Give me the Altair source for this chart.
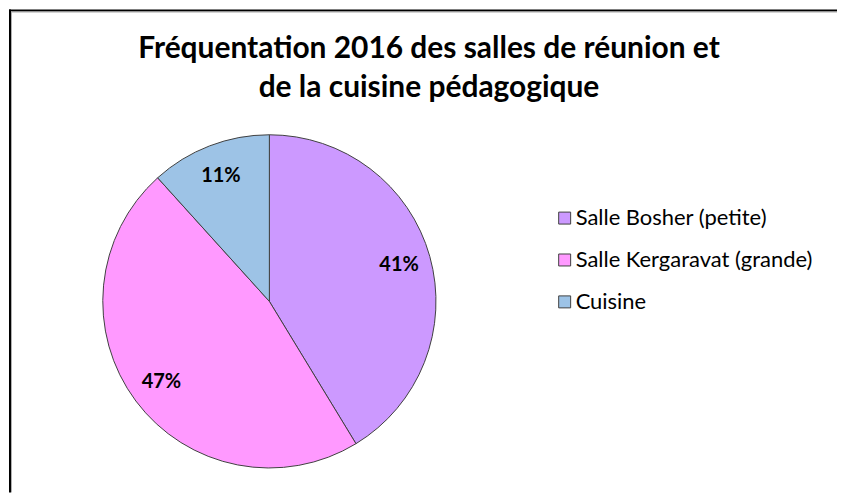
import altair as alt
import pandas as pd

categories = ["Salle Bosher (petite)", "Salle Kergaravat (grande)", "Cuisine"]
values = [41.3, 47.0, 11.7]
labels = ["41%", "47%", "11%"]
colors = ["#CC99FF", "#FF99FF", "#9DC3E6"]
title_lines = ["Fréquentation 2016 des salles de réunion et", "de la cuisine pédagogique"]

df = pd.DataFrame({"cat": categories, "val": values, "lab": labels, "idx": list(range(len(categories)))})

W, H = 830, 484
CX, CY, R = 261, 292.5, 167

color = alt.Color("cat:N", scale=alt.Scale(domain=categories, range=colors),
                  legend=alt.Legend(title=None, orient="none", legendX=546, legendY=198,
                                    symbolType="square", symbolSize=144,
                                    symbolStrokeColor="#404040", symbolStrokeWidth=1,
                                    labelFont="Lato", labelFontSize=22, labelColor="#000000",
                                    labelOffset=0, rowPadding=20, padding=0,
                                    labelLimit=400))

base = alt.Chart(df).encode(
    theta=alt.Theta("val:Q", stack=True),
    order=alt.Order("idx:Q"),
)

arcs = base.mark_arc(stroke="#404040", strokeWidth=1).encode(
    color=color,
    x=alt.value(CX), y=alt.value(CY), radius=alt.value(R),
)

texts = base.mark_text(font="Lato", fontSize=20, fontWeight="bold", color="#000000").encode(
    text="lab:N",
    x=alt.value(CX), y=alt.value(CY), radius=alt.value(135),
)

tdf = pd.DataFrame({"t": title_lines, "i": [0, 1]})
title1 = alt.Chart(tdf.iloc[[0]]).mark_text(font="Lato", fontSize=30, fontWeight="bold",
                                             baseline="alphabetic", align="center", color="#000000").encode(
    text="t:N", x=alt.value(421), y=alt.value(49))
title2 = alt.Chart(tdf.iloc[[1]]).mark_text(font="Lato", fontSize=30, fontWeight="bold",
                                             baseline="alphabetic", align="center", color="#000000").encode(
    text="t:N", x=alt.value(421), y=alt.value(88))

left = alt.Chart(tdf.iloc[[0]]).mark_rule(color="#000000", strokeWidth=2).encode(
    x=alt.value(1), y=alt.value(0), y2=alt.value(H))
top = alt.Chart(tdf.iloc[[0]]).mark_rule(color="#000000", strokeWidth=2).encode(
    y=alt.value(1), x=alt.value(0), x2=alt.value(W))
left2 = alt.Chart(tdf.iloc[[0]]).mark_rule(color="#B0B0B0", strokeWidth=1).encode(
    x=alt.value(2.5), y=alt.value(2), y2=alt.value(H))
top2 = alt.Chart(tdf.iloc[[0]]).mark_rule(color="#B0B0B0", strokeWidth=1).encode(
    y=alt.value(2.5), x=alt.value(2), x2=alt.value(W))

chart = alt.layer(arcs, texts, title1, title2, left, top, left2, top2).properties(
    width=W, height=H, padding=0
).configure_view(stroke=None)

chart.save("out.html", embed_options={"renderer": "svg", "actions": False})
